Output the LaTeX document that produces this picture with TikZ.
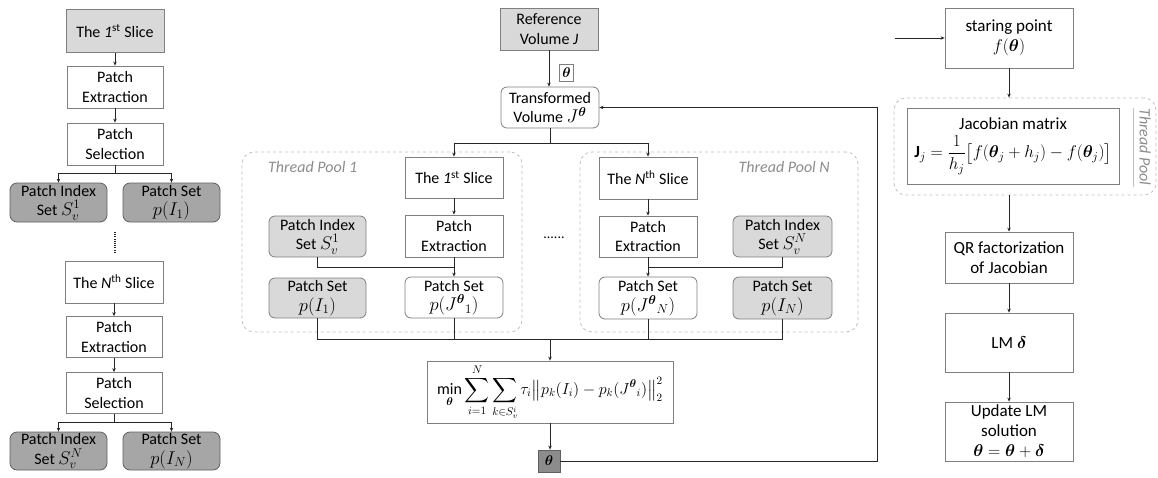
\documentclass[tikz,border=0pt]{standalone}
\usepackage{fix-cm}
\usepackage{amsmath}
\usepackage{bm}
\usepackage{fontspec}
\setmainfont{Carlito}
\usetikzlibrary{arrows.meta,calc}
\definecolor{lightg}{HTML}{D9D9D9}
\definecolor{darkg}{HTML}{A6A6A6}
\definecolor{thetag}{HTML}{8C8C8C}
\definecolor{bordc}{HTML}{7F7F7F}
\definecolor{dbordc}{HTML}{606060}
\definecolor{linec}{HTML}{262626}
\definecolor{poolc}{HTML}{BFBFBF}
\definecolor{labc}{HTML}{8C8C8C}
\newcommand\fsz{\fontsize{16}{19.5}\selectfont}
\newcommand\fszr{\fontsize{17}{20}\selectfont}
\newcommand\mm[1]{{\fontsize{18.5}{20}\selectfont$#1$}}
\tikzset{
  box/.style={draw=bordc, line width=0.8pt, fill=white, align=center, inner sep=0pt, font=\fsz, text=black},
  wbox/.style={box},
  rwbox/.style={box, font=\fszr},
  gbox/.style={box, fill=lightg},
  rbox/.style={box, rounded corners=6pt},
  lgbox/.style={box, fill=lightg, rounded corners=6pt},
  dkbox/.style={box, draw=dbordc, fill=darkg, rounded corners=7pt},
  pool/.style={draw=poolc, dashed, line width=0.8pt, rounded corners=12pt, inner sep=0pt},
  poollab/.style={font=\fsz\itshape, text=labc, inner sep=0pt},
  conn/.style={draw=linec, line width=1pt},
  arr/.style={conn, -{Stealth[length=4pt,width=3.5pt]}},
}
\begin{document}
\begin{tikzpicture}[x=1pt,y=-1pt]
\useasboundingbox (0,0) rectangle (1158,477);
% ---------- left column ----------
\node[gbox, minimum width=98, minimum height=43] (L1s) at (115,31) {The \textit{1}\textsuperscript{st} Slice};
\node[wbox, minimum width=96, minimum height=42] (LPE) at (115,87) {Patch\\Extraction};
\node[wbox, minimum width=96, minimum height=42] (LPS) at (115,144) {Patch\\Selection};
\node[dkbox, minimum width=97, minimum height=39] (LIS1) at (58.5,202.5) {Patch Index\\Set \mm{S_v^1}};
\node[dkbox, minimum width=97, minimum height=39] (LPI1) at (171.5,202.5) {Patch Set\\\mm{p(I_1)}};
\coordinate (dA) at (115,232);
\coordinate (dB) at (115,252);
\draw[line width=1.3pt, linec, dash pattern=on 1pt off 1.2pt] (dA) -- (dB);
\node[wbox, minimum width=98, minimum height=42] (LNs) at (114,282) {The \textit{N}\textsuperscript{th} Slice};
\node[wbox, minimum width=96, minimum height=41] (LPE2) at (114,337) {Patch\\Extraction};
\node[wbox, minimum width=96, minimum height=41] (LPS2) at (114,393) {Patch\\Selection};
\node[dkbox, minimum width=97, minimum height=38] (LISN) at (58.5,451) {Patch Index\\Set \mm{S_v^N}};
\node[dkbox, minimum width=97, minimum height=38] (LPIN) at (171.5,451) {Patch Set\\\mm{p(I_N)}};
\draw[arr] (L1s) -- (LPE);
\draw[arr] (LPE) -- (LPS);
\draw[arr] (LPS.south) -- ++(0,8) -| (LIS1.north);
\draw[arr] (LPS.south) -- ++(0,8) -| (LPI1.north);
\draw[arr] (LNs) -- (LPE2);
\draw[arr] (LPE2) -- (LPS2);
\draw[arr] (LPS2.south) -- ++(0,9) -| (LISN.north);
\draw[arr] (LPS2.south) -- ++(0,9) -| (LPIN.north);
% ---------- centre ----------
\node[pool, minimum width=280, minimum height=180] (P1) at (382,242) {};
\node[pool, minimum width=278, minimum height=180] (PN) at (719,242) {};
\node[poollab, anchor=west] (P1lab) at (268,167) {Thread Pool 1};
\node[poollab, anchor=east] (PNlab) at (830,167) {Thread Pool N};
\node[gbox, minimum width=98, minimum height=42] (RV) at (549,29) {Reference\\Volume \textit{J}};
\node[rbox, minimum width=98, minimum height=41] (TV) at (550,107.5) {Transformed\\Volume \mm{J^{\bm\theta}}};
\node[box, line width=0.6pt, minimum width=14, minimum height=17, font=\fontsize{14}{15}\selectfont] (th1) at (566.5,72.5) {$\bm\theta$};
\draw[arr] (RV.south) -- (RV.south |- TV.north);
\node[wbox, minimum width=98, minimum height=41] (P1S) at (454,177.5) {The \textit{1}\textsuperscript{st} Slice};
\node[wbox, minimum width=98, minimum height=42] (P1PE) at (454,236) {Patch\\Extraction};
\node[lgbox, minimum width=97, minimum height=41] (P1IS) at (317.5,236.5) {Patch Index\\Set \mm{S_v^1}};
\node[lgbox, minimum width=97, minimum height=40] (P1PI) at (317.5,298) {Patch Set\\\mm{p(I_1)}};
\node[rbox, minimum width=98, minimum height=41] (P1PJ) at (454,297.5) {Patch Set\\\mm{p({J^{\bm\theta}}_1)}};
\node[wbox, minimum width=98, minimum height=42] (PNS) at (648,178) {The \textit{N}\textsuperscript{th} Slice};
\node[wbox, minimum width=98, minimum height=41] (PNPE) at (648,236.5) {Patch\\Extraction};
\node[lgbox, minimum width=99, minimum height=41] (PNIS) at (782.5,236.5) {Patch Index\\Set \mm{S_v^N}};
\node[rbox, minimum width=98, minimum height=42] (PNPJ) at (648,298) {Patch Set\\\mm{p({J^{\bm\theta}}_N)}};
\node[lgbox, minimum width=99, minimum height=42] (PNPI) at (782.5,298) {Patch Set\\\mm{p(I_N)}};
\node[font=\fontsize{14}{15}\selectfont, inner sep=0pt] (dots) at (554,238) {......};
\draw[arr] (TV.south) -- ++(0,15) -| (P1S.north);
\draw[arr] (TV.south) -- ++(0,15) -| (PNS.north);
\draw[arr] (P1S) -- (P1PE);
\draw[arr] (PNS) -- (PNPE);
\draw[arr] (P1PE) -- (P1PJ);
\draw[arr] (PNPE) -- (PNPJ);
\draw[conn] (P1IS.south) |- ($(P1PE.south)!0.5!(P1PJ.north)$);
\draw[conn] (PNIS.south) |- ($(PNPE.south)!0.5!(PNPJ.north)$);
\node[box, minimum width=246, minimum height=62, font=\fontsize{16}{18}\selectfont] (F) at (550,392)
  {$\displaystyle\min_{\bm\theta}\sum_{i=1}^{N}\sum_{k\in S_v^i}\tau_i\big\|p_k(I_i)-p_k({J^{\bm\theta}}_i)\big\|_2^2$};
\coordinate (jb) at (550,339);
\draw[conn] (P1PI.south) |- (jb);
\draw[conn] (P1PJ.south) |- (jb);
\draw[conn] (PNPJ.south) |- (jb);
\draw[conn] (PNPI.south) |- (jb);
\draw[arr] (jb) -- (F.north);
\node[box, draw=dbordc, fill=thetag, minimum width=22, minimum height=22, font=\fontsize{14}{15}\selectfont] (th2) at (549,461) {$\bm\theta$};
\draw[arr] (F.south) -- (F.south |- th2.north);
\coordinate (fbk) at (877,461);
\draw[arr] (th2.east) -- (fbk) |- (TV.east);
% ---------- right column ----------
\coordinate (in) at (895,38);
\node[rwbox, minimum width=128, minimum height=60] (SP) at (1009,38) {staring point\\$f(\bm\theta)$};
\draw[arr] (in) -- (SP.west);
\node[pool, minimum width=262, minimum height=97] (TP) at (1025,146.5) {};
\node[rwbox, minimum width=212, minimum height=76] (Jac) at (1013,146) {Jacobian matrix\\[5pt]$\mathbf{J}_j=\dfrac{1}{h_j}\big[f(\bm\theta_j+h_j)-f(\bm\theta_j)\big]$};
\coordinate (sepA) at (1133,108);
\coordinate (sepB) at (1133,187);
\draw[poolc, line width=0.6pt] (sepA) -- (sepB);
\node[poollab, rotate=-90] (TPlab) at (1145,147) {Thread Pool};
\node[rwbox, minimum width=128, minimum height=51] (QR) at (1009,257.5) {QR factorization\\of Jacobian};
\node[rwbox, minimum width=128, minimum height=59] (LM) at (1009,342.5) {LM $\bm\delta$};
\node[rwbox, minimum width=128, minimum height=59] (UP) at (1009,431.5) {Update LM\\solution\\$\bm\theta=\bm\theta+\bm\delta$};
\draw[arr] (SP.south) -- (SP.south |- TP.north);
\draw[arr] (TP.south -| QR.north) -- (QR.north);
\draw[arr] (QR) -- (LM);
\draw[arr] (LM) -- (UP);
\end{tikzpicture}
\end{document}
